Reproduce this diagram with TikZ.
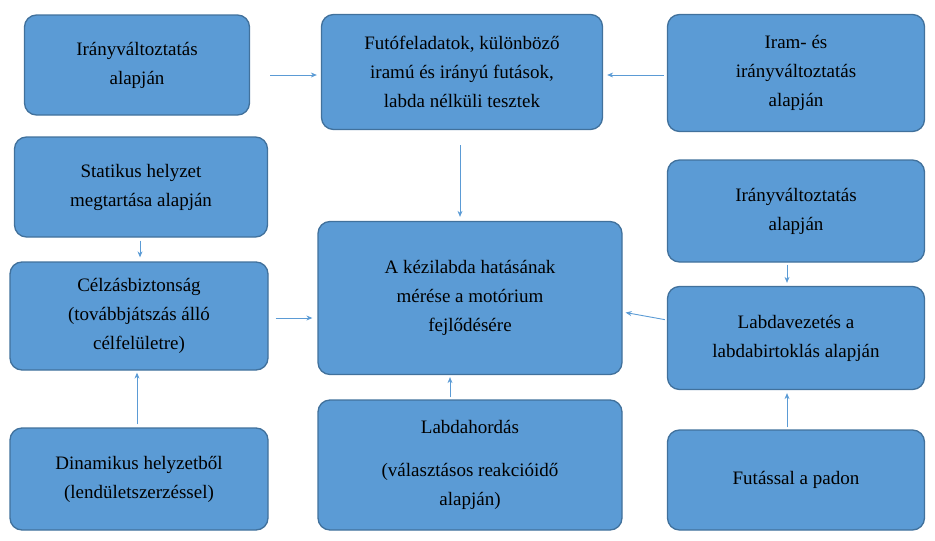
\documentclass[tikz,border=0pt]{standalone}
\usepackage{fontspec}
\setmainfont{Liberation Serif}
\usetikzlibrary{arrows.meta, positioning}
\definecolor{boxfill}{HTML}{5B9BD5}
\definecolor{boxline}{HTML}{41719C}
\begin{document}
\begin{tikzpicture}[x=1pt, y=-1pt, >={Stealth[length=6pt,width=5pt]},
  box/.style={rectangle, rounded corners=12pt, draw=boxline, fill=boxfill, line width=1.3pt,
    align=center, font=\fontsize{19}{29}\selectfont, inner sep=2pt},
  link/.style={->, draw=boxfill, line width=0.9pt}]

\useasboundingbox (0,0) rectangle (935,541);

\node[box, minimum width=225, minimum height=100] (irany1) at (137,65) {Irányváltoztatás\\alapján};
\node[box, minimum width=281, minimum height=115] (futo) at (462,72) {Futófeladatok, különböző\\iramú és irányú futások,\\labda nélküli tesztek};
\node[box, minimum width=257, minimum height=117] (iram) at (796,73) {Iram- és\\irányváltoztatás\\alapján};
\node[box, minimum width=253, minimum height=100] (stat) at (141,187) {Statikus helyzet\\megtartása alapján};
\node[box, minimum width=258, minimum height=108] (celz) at (139,316) {Célzásbiztonság\\(továbbjátszás álló\\célfelületre)};
\node[box, minimum width=258, minimum height=102] (dina) at (139,479) {Dinamikus helyzetből\\(lendületszerzéssel)};
\node[box, minimum width=304, minimum height=153] (kozep) at (470,298) {A kézilabda hatásának\\mérése a motórium\\fejlődésére};
\node[box, minimum width=304, minimum height=130] (hord) at (470,465) {Labdahordás\\[14pt](választásos reakcióidő\\alapján)};
\node[box, minimum width=257, minimum height=102] (irany2) at (796,211) {Irányváltoztatás\\alapján};
\node[box, minimum width=257, minimum height=103] (vezet) at (796,338) {Labdavezetés a\\labdabirtoklás alapján};
\node[box, minimum width=257, minimum height=100] (futas) at (796,480) {Futással a padon};

% connectors
\draw[link, shorten <=20pt, shorten >=4pt] (irany1.east |- 0,75) -- (futo.west |- 0,75);
\draw[link, shorten <=3pt, shorten >=4pt] (iram.west |- 0,75) -- (futo.east |- 0,75);
\draw[link, shorten <=15pt, shorten >=4pt] (futo.south -| 460,0) -- (kozep.north -| 460,0);
\draw[link, shorten <=3pt, shorten >=4pt] (stat.south -| 140,0) -- (celz.north -| 140,0);
\draw[link, shorten <=3pt, shorten >=2pt] (dina.north -| 137,0) -- (celz.south -| 137,0);
\draw[link, shorten <=7pt, shorten >=5pt] (celz.east |- 0,318) -- (kozep.west |- 0,318);
\draw[link, shorten <=2pt, shorten >=2pt] (hord.north -| 450,0) -- (kozep.south -| 450,0);
\draw[link, shorten <=2pt, shorten >=3pt] (irany2.south -| 787,0) -- (vezet.north -| 787,0);
\draw[link, shorten <=2pt, shorten >=3pt] (futas.north -| 787,0) -- (vezet.south -| 787,0);
\draw[link, shorten <=2pt, shorten >=3pt] (vezet.west |- 0,320) -- (kozep.east |- 0,312);
\end{tikzpicture}
\end{document}
